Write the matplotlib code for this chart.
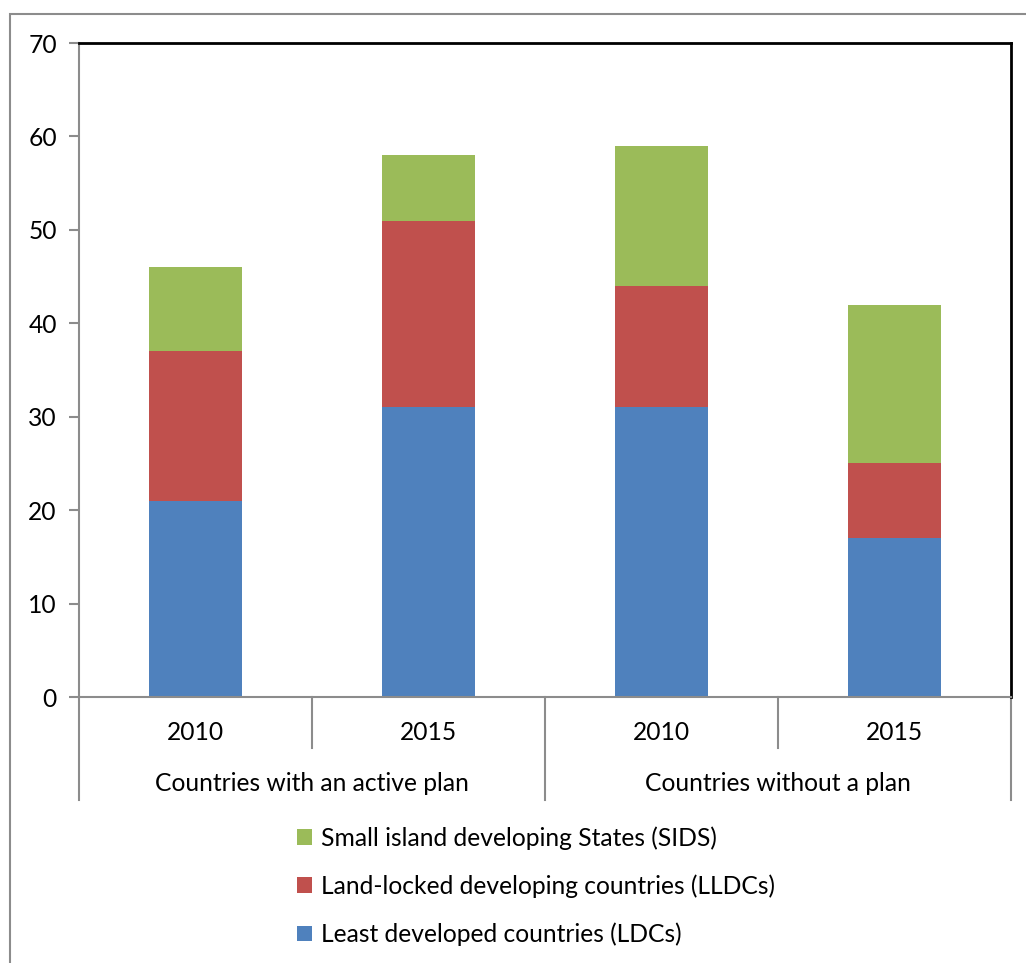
import matplotlib
matplotlib.use('Agg')
import matplotlib.pyplot as plt
import matplotlib.transforms as mtransforms
from matplotlib.patches import Rectangle, Patch

years  = ['2010', '2015', '2010', '2015']
groups = ['Countries with an active plan', 'Countries without a plan']
ldc    = [21, 31, 31, 17]
lldc   = [16, 20, 13, 8]
sids   = [9, 7, 15, 17]
series_names = ['Least developed countries (LDCs)',
                'Land-locked developing countries (LLDCs)',
                'Small island developing States (SIDS)']
colors = ['#4F81BD', '#C0504D', '#9BBB59']

plt.rcParams['font.family'] = ['Lato', 'DejaVu Sans']
fs = 17.7

fig = plt.figure(figsize=(10.26, 9.63), dpi=100)
W, H = 1026, 963
ax = fig.add_axes([79 / W, 1 - 697 / H, (1011 - 79) / W, (697 - 43) / H])

# outer chart border
fig.patches.append(Rectangle((10 / W, -0.1), 1.2, 1 - 14 / H + 0.1,
                             transform=fig.transFigure, fill=False,
                             edgecolor='#8c8c8c', linewidth=1.5, clip_on=False))

x = range(len(years))
bottom2 = [a + b for a, b in zip(ldc, lldc)]
ax.bar(x, ldc, width=0.4, color=colors[0])
ax.bar(x, lldc, width=0.4, bottom=ldc, color=colors[1])
ax.bar(x, sids, width=0.4, bottom=bottom2, color=colors[2])

ax.set_xlim(-0.5, len(years) - 0.5)
ax.set_ylim(0, 70)
ax.set_yticks(range(0, 71, 10))
ax.tick_params(axis='y', length=7, width=1.5, color='#8c8c8c', labelsize=fs, pad=9)
ax.set_xticks([])
ax.spines['left'].set_color('#8c8c8c')
ax.spines['bottom'].set_color('#8c8c8c')
for s in ['left', 'bottom']:
    ax.spines[s].set_linewidth(1.5)
for s in ['top', 'right']:
    ax.spines[s].set_linewidth(2)
    ax.spines[s].set_color('black')

# multi-level category axis
trans = mtransforms.blended_transform_factory(ax.transData, ax.transAxes)
y_year = -(732 - 697) / (697 - 43)
y_group = -(783 - 697) / (697 - 43)
y_short = -(748 - 697) / (697 - 43)
y_long = -(800 - 697) / (697 - 43)
for i, yr in enumerate(years):
    ax.text(i, y_year, yr, transform=trans, ha='center', va='center', fontsize=fs)
n_per = len(years) // len(groups)
for g, name in enumerate(groups):
    ax.text(g * n_per + (n_per - 1) / 2, y_group, name, transform=trans,
            ha='center', va='center', fontsize=fs)
for k in range(len(years) + 1):
    end = y_long if k % n_per == 0 else y_short
    ax.plot([k - 0.5, k - 0.5], [0, end], transform=trans, color='#8c8c8c',
            linewidth=1.5, clip_on=False)

handles = [Patch(facecolor=c) for c in colors][::-1]
fig.legend(handles, series_names[::-1], loc='center', bbox_to_anchor=(536 / W, 1 - 886 / H),
           frameon=False, fontsize=fs, handlelength=0.6, handleheight=0.6,
           handletextpad=0.35, labelspacing=1.0)

plt.savefig('out.png', dpi=100)
